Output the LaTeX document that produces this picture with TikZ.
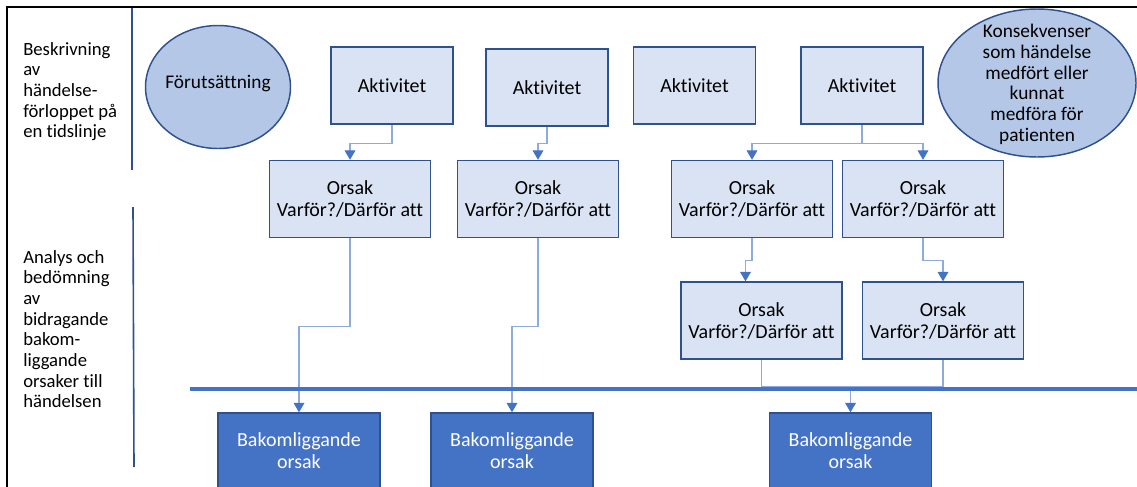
\documentclass[tikz,border=0pt]{standalone}
\usepackage{fontspec}
\setmainfont{Carlito}[Ligatures=NoCommon]
\usetikzlibrary{arrows.meta}
\usetikzlibrary{positioning,calc}
\usetikzlibrary{shapes.geometric}

\definecolor{boxfill}{HTML}{DAE3F3}
\definecolor{boxline}{HTML}{2F528F}
\definecolor{ellfill}{HTML}{B4C7E7}
\definecolor{connline}{HTML}{8FAADC}
\definecolor{darkblue}{HTML}{4472C4}

\tikzset{
  txt/.style={font=\fontsize{15}{16.5}\selectfont,align=center},
  aktbox/.style={txt,rectangle,draw=boxline,fill=boxfill,line width=1.1pt,
    minimum width=91.5pt,minimum height=57.75pt},
  orsbox/.style={aktbox,minimum width=120.75pt},
  bakbox/.style={txt,rectangle,draw=boxline,fill=darkblue,text=white,line width=1.1pt,
    minimum width=121.5pt,minimum height=56.25pt},
  ell/.style={ellipse,draw=boxline,fill=ellfill,line width=1.1pt,inner sep=0pt},
  lbl/.style={font=\fontsize{14}{15.5}\selectfont,align=left,inner sep=0pt,anchor=west},
  conn/.style={draw=connline,line width=0.8pt,
    -{Triangle[width=8pt,length=7pt,color=darkblue]}},
  connplain/.style={draw=connline,line width=0.8pt}
}

\begin{document}
\begin{tikzpicture}[x=0.75pt,y=-0.75pt]
  \useasboundingbox (0,0) rectangle (1137,486);

  % frame and dividers
  \draw[line width=1.5pt] (7,520) -- (7,7) -- (1160,7);
  \draw[boxline,line width=1.2pt] (132,8) -- (132,170);
  \draw[boxline,line width=1.2pt] (133,207) -- (134,467);

  \node[lbl] (beskr) at (23,91.5) {Beskrivning\\av\\händelse-\\förloppet på\\en tidslinje};
  \node[lbl] (analys) at (23,329) {Analys och\\bedömning\\av\\bidragande\\bakom-\\liggande\\orsaker till\\händelsen};

  % tidslinje
  \node[ell,minimum width=108.75pt,minimum height=92.25pt] (forut) at (218,87) {};
  \node[txt,font=\fontsize{14.5}{16}\selectfont] at ([yshift=2.5pt]forut.center) {Förutsättning};
  \node[aktbox] (A1) at (392,85.5) {Aktivitet};
  \node[aktbox] (A2) at (547,87.5) {Aktivitet};
  \node[aktbox] (A3) at (694.5,85.5) {Aktivitet};
  \node[aktbox] (A4) at (862,85.5) {Aktivitet};
  \node[ell,minimum width=148.5pt,minimum height=111pt] (kons) at (1037,83) {};
  \node[txt,font=\fontsize{14.5}{15.5}\selectfont] at ([yshift=-1pt]kons.center) {Konsekvenser\\som händelse\\medfört eller\\kunnat\\medföra för\\patienten};

  % orsaker
  \node[orsbox] (O1) at (350,199) {Orsak\\Varför?/Därför att};
  \node[orsbox] (O2) at (538,199) {Orsak\\Varför?/Därför att};
  \node[orsbox] (O3) at (752,199) {Orsak\\Varför?/Därför att};
  \node[orsbox] (O4) at (923,199) {Orsak\\Varför?/Därför att};
  \node[orsbox] (O5) at (761.5,320.5) {Orsak\\Varför?/Därför att};
  \node[orsbox] (O6) at (943,320.5) {Orsak\\Varför?/Därför att};

  \node[bakbox] (B1) at (299,450.5) {Bakomliggande\\orsak};
  \node[bakbox] (B2) at (512,450.5) {Bakomliggande\\orsak};
  \node[bakbox] (B3) at (850.5,450.5) {Bakomliggande\\orsak};

  % connectors
  \draw[conn] (A1.south) -- ++(0,19) -| (O1.north);
  \draw[conn] (A2.south) -- ++(0,17) -| (O2.north);
  \draw[conn] (A4.south) -- ++(0,19) coordinate (fork) -| (O3.north);
  \draw[conn] (fork) -| (O4.north);
  \draw[conn] (O1.south) -- ++(0,88) -| (B1.north);
  \draw[conn] (O2.south) -- ++(0,88) -| (B2.north);
  \draw[conn] (O3.south) -- ++(0,22) -| ($(O5.north)+(-16,0)$);
  \draw[conn] (O4.south) -- ++(0,22) -| (O6.north);
  \coordinate (merge) at ($(B3.north)+(0,-26)$);
  \draw[connplain] (O5.south) |- (merge);
  \draw[conn] (O6.south) |- (merge) -- (B3.north);

  \draw[darkblue,line width=2.3pt] (190,389) -- (1160,389);
\end{tikzpicture}
\end{document}
